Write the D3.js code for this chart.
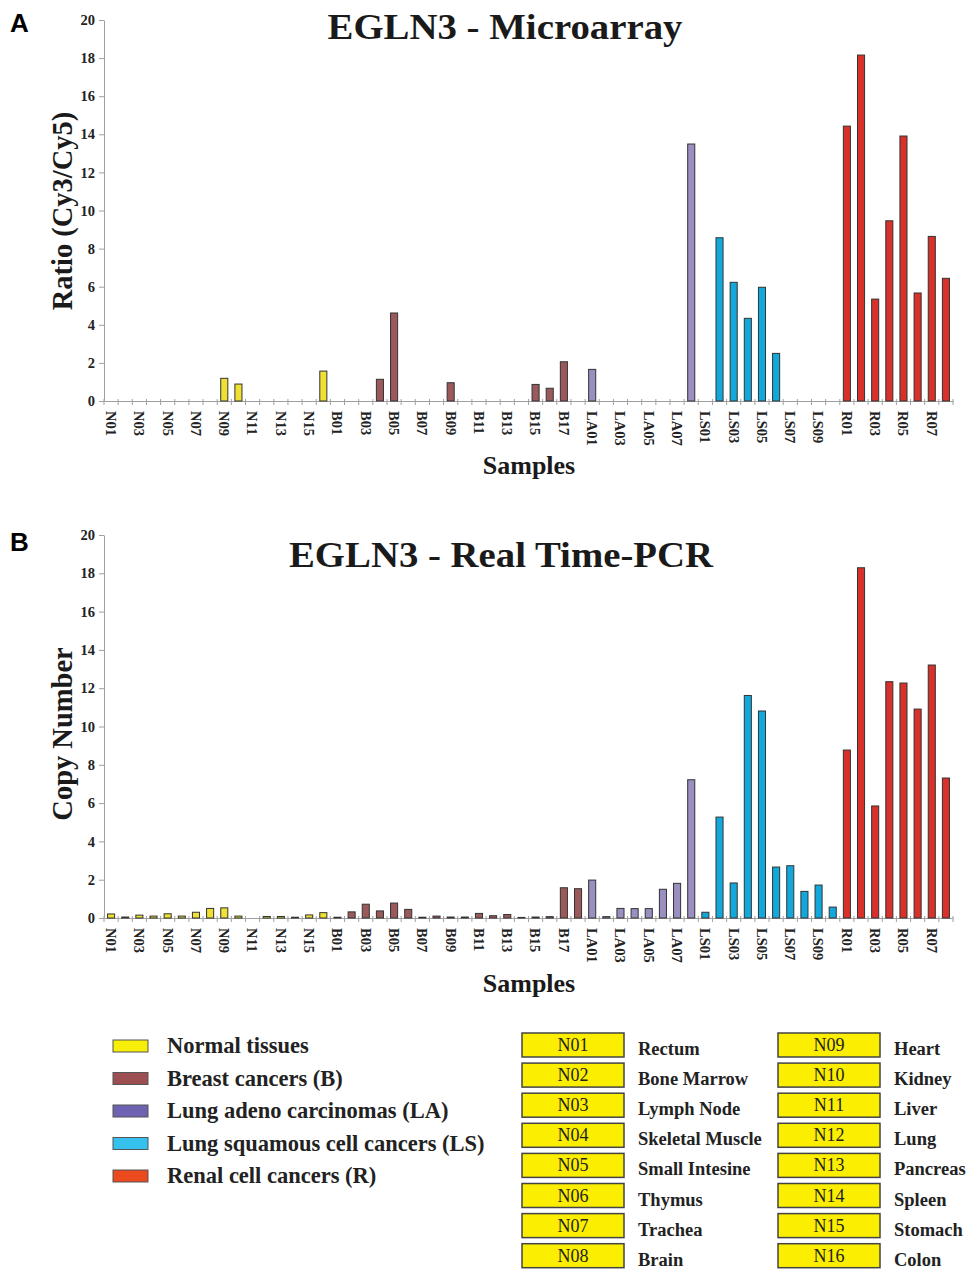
<!DOCTYPE html>
<html><head><meta charset="utf-8">
<script src="https://cdn.jsdelivr.net/npm/d3@7"></script>
<style>
body{margin:0;background:#fff;}
svg{display:block;}
</style></head>
<body>
<svg id="c" width="968" height="1270"></svg>
<script>
const samples = ["N01","N02","N03","N04","N05","N06","N07","N08","N09","N10","N11","N12","N13","N14","N15","N16",
 "B01","B02","B03","B04","B05","B06","B07","B08","B09","B10","B11","B12","B13","B14","B15","B16","B17","B18",
 "LA01","LA02","LA03","LA04","LA05","LA06","LA07","LA08",
 "LS01","LS02","LS03","LS04","LS05","LS06","LS07","LS08","LS09","LS10",
 "R01","R02","R03","R04","R05","R06","R07","R08"];
const microarray = [0,0,0,0,0,0,0,0,1.19,0.89,0,0,0,0,0,1.57,
 0,0,0,1.14,4.62,0,0,0,0.96,0,0,0,0,0,0.87,0.67,2.06,0,
 1.66,0,0,0,0,0,0,13.49,
 0,8.57,6.23,4.34,5.97,2.50,0,0,0,0,
 14.43,18.16,5.35,9.46,13.91,5.67,8.64,6.44];
const pcr = [0.21,0.05,0.15,0.10,0.22,0.10,0.30,0.50,0.53,0.10,0,0.08,0.08,0.04,0.16,0.28,
 0.04,0.32,0.72,0.37,0.78,0.45,0.04,0.10,0.05,0.05,0.24,0.12,0.18,0.03,0.05,0.07,1.58,1.53,
 1.98,0.07,0.50,0.49,0.49,1.50,1.81,7.22,
 0.30,5.27,1.83,11.62,10.81,2.66,2.73,1.39,1.72,0.57,
 8.77,18.29,5.85,12.34,12.27,10.91,13.21,7.31];
const yTicks = [0,2,4,6,8,10,12,14,16,18,20];
const groupKeys = ["N","B","LA","LS","R"];
const groupLabels = ["Normal tissues","Breast cancers (B)","Lung adeno carcinomas (LA)","Lung squamous cell cancers (LS)","Renal cell cancers (R)"];
const barColors = ["#efe033","#9a5a5c","#9b8fc2","#12a8dc","#d8302a"];
const legendColors = ["#f7ee0a","#9c4e50","#6e62b2","#35c0ee","#ea4a1e"];
const tissueCodes = ["N01","N02","N03","N04","N05","N06","N07","N08","N09","N10","N11","N12","N13","N14","N15","N16"];
const tissueNames = ["Rectum","Bone Marrow","Lymph Node","Skeletal Muscle","Small Intesine","Thymus","Trachea","Brain",
 "Heart","Kidney","Liver","Lung","Pancreas","Spleen","Stomach","Colon"];

const svg = d3.select("#c");
const serif = "'Liberation Serif','Times New Roman',serif";
const groupOf = s => s.replace(/[0-9]/g,"");
const color = d3.scaleOrdinal(groupKeys, barColors);

function panel(cfg){
  const x = d3.scaleBand(samples, [104, 953]).paddingInner(0.5).paddingOuter(0.25);
  const y = d3.scaleLinear([0,20], [cfg.y0, cfg.y1]);
  const g = svg.append("g");
  g.append("text").attr("x",10).attr("y",cfg.letterY).text(cfg.letter)
   .style("font-family","'Liberation Sans',Arial,sans-serif").style("font-weight","bold").style("font-size","26px");
  g.append("text").attr("x",cfg.titleX).attr("y",cfg.titleY).attr("text-anchor","middle").text(cfg.title)
   .attr("textLength",cfg.titleLen).attr("lengthAdjust","spacingAndGlyphs")
   .style("font-family",serif).style("font-weight","bold").style("font-size","36px").attr("fill","#1a1a1a");
  const ya = g.append("g").attr("transform","translate(104,0)")
    .call(d3.axisLeft(y).tickValues(yTicks).tickSize(5).tickSizeOuter(0).tickPadding(4));
  ya.select(".domain").attr("stroke","#a0a0a0");
  ya.selectAll(".tick line").attr("stroke","#a0a0a0");
  ya.selectAll("text").style("font-family",serif).style("font-weight","bold").style("font-size","14.5px").attr("fill","#222");
  const xa = g.append("g").attr("transform",`translate(0,${cfg.y0})`)
    .call(d3.axisBottom(x).tickValues(samples.filter((d,i)=>i%2===0)).tickSize(0).tickSizeOuter(0));
  xa.select(".domain").attr("stroke","#a0a0a0");
  xa.selectAll(".tick text").attr("transform","rotate(90)").attr("text-anchor","start")
    .attr("x",10).attr("y",0).attr("dy","0.35em")
    .style("font-family",serif).style("font-weight","bold").style("font-size","14.5px").attr("fill","#222");
  const step = x.step();
  g.append("g").selectAll("line").data(samples.concat(["_end"])).join("line")
    .attr("x1",(d,i)=> x(samples[0]) - step*0.25 + i*step)
    .attr("x2",(d,i)=> x(samples[0]) - step*0.25 + i*step)
    .attr("y1",cfg.y0-2).attr("y2",cfg.y0+4).attr("stroke","#a0a0a0");
  g.append("g").selectAll("rect").data(samples.map((s,i)=>({s, v:cfg.values[i]})).filter(d=>d.v>0)).join("rect")
    .attr("x",d=>x(d.s)).attr("width",x.bandwidth())
    .attr("y",d=>y(d.v)).attr("height",d=>y(0)-y(d.v))
    .attr("fill",d=>color(groupOf(d.s))).attr("stroke","#333").attr("stroke-width",1);
  g.append("text").attr("transform",`translate(72,${cfg.yTitleY}) rotate(-90)`).attr("text-anchor","middle").text(cfg.yTitle)
   .style("font-family",serif).style("font-weight","bold").style("font-size","28.5px").attr("fill","#1a1a1a");
  g.append("text").attr("x",529).attr("y",cfg.xTitleY).attr("text-anchor","middle").text("Samples")
   .style("font-family",serif).style("font-weight","bold").style("font-size","26px").attr("fill","#1a1a1a");
}
panel({letter:"A",letterY:32,title:"EGLN3 - Microarray",titleX:505,titleY:39,titleLen:355,y0:401,y1:20,values:microarray,
  yTitle:"Ratio (Cy3/Cy5)",yTitleY:211,xTitleY:474});
panel({letter:"B",letterY:551,title:"EGLN3 - Real Time-PCR",titleX:501,titleY:567,titleLen:424,y0:918,y1:535,values:pcr,
  yTitle:"Copy Number",yTitleY:734,xTitleY:992});

const lg = svg.append("g");
groupLabels.forEach((t,i)=>{
  const cy = 1046 + i*32.5;
  lg.append("rect").attr("x",113).attr("y",cy-6).attr("width",35).attr("height",12)
    .attr("fill",legendColors[i]).attr("stroke","#555").attr("stroke-width",1);
  lg.append("text").attr("x",167).attr("y",cy+7).text(t)
    .style("font-family",serif).style("font-weight","bold").style("font-size","22.5px").attr("fill","#222");
});
const tg = svg.append("g");
tissueCodes.forEach((c,i)=>{
  const col = Math.floor(i/8), row = i%8;
  const bx = col===0 ? 522 : 778, by = 1033 + row*30.1;
  tg.append("rect").attr("x",bx).attr("y",by).attr("width",102).attr("height",24)
    .attr("fill","#fbee00").attr("stroke","#444").attr("stroke-width",1.5);
  tg.append("text").attr("x",bx+51).attr("y",by+18).attr("text-anchor","middle").text(c)
    .style("font-family",serif).style("font-size","18px").attr("fill","#222");
  tg.append("text").attr("x",bx+116).attr("y",by+22).text(tissueNames[i])
    .style("font-family",serif).style("font-weight","bold").style("font-size","18.5px").attr("fill","#222");
});
</script>
</body></html>
